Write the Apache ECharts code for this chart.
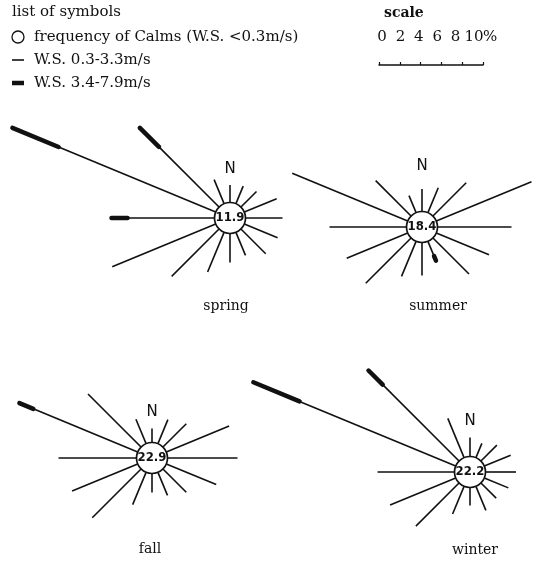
<!DOCTYPE html>
<html>
<head>
<meta charset="utf-8">
<script src="https://cdn.jsdelivr.net/npm/echarts@6/dist/echarts.min.js"></script>
<style>
html, body { margin: 0; padding: 0; background: #fff; }
#chart { width: 536px; height: 567px; }
</style>
</head>
<body>
<div id="chart"></div>
<script>
// 16 wind directions, clockwise from north
var dirs = ['N', 'NNE', 'NE', 'ENE', 'E', 'ESE', 'SE', 'SSE', 'S', 'SSW', 'SW', 'WSW', 'W', 'WNW', 'NW', 'NNW'];
var seasons = ['spring', 'summer', 'fall', 'winter'];
var calms = [11.9, 18.4, 22.9, 22.2];

// frequency (%) of W.S. 0.3-3.3m/s
var springThin = [1.75, 1.9, 2.2, 3.5, 3.7, 3.6, 3.5, 2.5, 2.9, 4.3, 6.7, 11.2, 8.7, 17.0, 8.5, 2.6];
var summerThin = [2.25, 2.7, 4.7, 10.3, 7.4, 5.7, 5.1, 1.6, 3.3, 3.8, 6.4, 6.6, 7.7, 12.5, 5.0, 1.85];
var fallThin   = [1.4, 2.6, 3.3, 6.8, 7.0, 5.4, 3.3, 2.5, 1.9, 3.5, 6.9, 7.1, 7.8, 11.3, 7.5, 2.65];
var winterThin = [1.9, 1.55, 2.25, 2.85, 3.05, 2.6, 2.15, 2.6, 1.8, 3.0, 6.1, 7.1, 7.7, 16.9, 10.8, 4.25];

// frequency (%) of W.S. 3.4-7.9m/s
var springThick = [0, 0, 0, 0, 0, 0, 0, 0, 0, 0, 0, 0, 1.6, 5.0, 2.7, 0];
var summerThick = [0, 0, 0, 0, 0, 0, 0, 0.5, 0, 0, 0, 0, 0, 0, 0, 0];
var fallThick   = [0, 0, 0, 0, 0, 0, 0, 0, 0, 0, 0, 0, 0, 1.5, 0, 0];
var winterThick = [0, 0, 0, 0, 0, 0, 0, 0, 0, 0, 0, 0, 0, 5.0, 2.0, 0];

var scaleTicks = [0, 2, 4, 6, 8, 10];

var thinData = [springThin, summerThin, fallThin, winterThin];
var thickData = [springThick, summerThick, fallThick, winterThick];

var centers = [[230, 218], [422, 227], [152, 458], [470, 472]];
var PX = 10;        // pixels per 1%
var CALM_R = 1.55;  // calm circle radius in axis units
var RMAX = 25;
var INK = '#111';
var SERIF = '"DejaVu Serif", "Liberation Serif", serif';
var SANS = '"DejaVu Sans", sans-serif';

var chart = echarts.init(document.getElementById('chart'));

var polar = [], angleAxis = [], radiusAxis = [], series = [];
for (var i = 0; i < seasons.length; i++) {
    polar.push({center: centers[i], radius: (RMAX + CALM_R) * PX});
    angleAxis.push({polarIndex: i, type: 'value', min: 0, max: 360, startAngle: 90, clockwise: true, show: false});
    radiusAxis.push({polarIndex: i, type: 'value', min: -CALM_R, max: RMAX, show: false});

    var data = [];
    for (var k = 0; k < dirs.length; k++) {
        var t = thinData[i][k], b = thickData[i][k];
        data.push([t + b, k * 360 / dirs.length, t, b]);
    }
    series.push({
        type: 'custom',
        coordinateSystem: 'polar',
        polarIndex: i,
        silent: true,
        data: data,
        renderItem: function(params, api) {
            var a = api.value(1), t = api.value(2), b = api.value(3);
            var p0 = api.coord([0, a]);
            var p1 = api.coord([t, a]);
            var p2 = api.coord([t + b, a]);
            var children = [{
                type: 'line',
                shape: {x1: p0[0], y1: p0[1], x2: p1[0], y2: p1[1]},
                style: {stroke: INK, lineWidth: 1.6}
            }];
            if (b > 0) {
                children.push({
                    type: 'line',
                    shape: {x1: p1[0], y1: p1[1], x2: p2[0], y2: p2[1]},
                    style: {stroke: INK, lineWidth: 4.5, lineCap: 'round'}
                });
            }
            return {type: 'group', children: children};
        }
    });
    series.push({
        type: 'scatter',
        coordinateSystem: 'polar',
        polarIndex: i,
        silent: true,
        z: 5,
        symbol: 'circle',
        symbolSize: 31,
        data: [[-CALM_R, 0, calms[i]]],
        itemStyle: {color: '#fff', borderColor: INK, borderWidth: 1.7, opacity: 1},
        label: {
            show: true,
            position: 'inside',
            formatter: function(p) { return p.value[2].toFixed(1); },
            color: INK,
            fontSize: 13,
            fontWeight: 'bold',
            fontFamily: '"DejaVu Sans Condensed", "DejaVu Sans", sans-serif'
        }
    });
}

// offsets of the N marks and the season names from each centre
var nOffset = [49, 61, 46, 51];
var nameOffset = [[-4, 88], [16, 79], [-2, 91], [5, 78]];

var graphic = [
    {type: 'text', x: 12, y: 12, style: {text: 'list of symbols', font: '15px ' + SERIF, fill: INK, verticalAlign: 'middle'}},
    {type: 'circle', shape: {cx: 18, cy: 37, r: 6}, style: {fill: '#fff', stroke: INK, lineWidth: 1.3}},
    {type: 'text', x: 34, y: 37, style: {text: 'frequency of Calms (W.S. <0.3m/s)', font: '15px ' + SERIF, fill: INK, verticalAlign: 'middle'}},
    {type: 'line', shape: {x1: 12, y1: 60, x2: 24, y2: 60}, style: {stroke: INK, lineWidth: 1.6}},
    {type: 'text', x: 34, y: 60, style: {text: 'W.S. 0.3-3.3m/s', font: '15px ' + SERIF, fill: INK, verticalAlign: 'middle'}},
    {type: 'line', shape: {x1: 12, y1: 83, x2: 24, y2: 83}, style: {stroke: INK, lineWidth: 4.5}},
    {type: 'text', x: 34, y: 83, style: {text: 'W.S. 3.4-7.9m/s', font: '15px ' + SERIF, fill: INK, verticalAlign: 'middle'}},
    {type: 'text', x: 384, y: 13, style: {text: 'scale', font: 'bold 14px ' + SERIF, fill: INK, verticalAlign: 'middle'}},
    {type: 'text', x: 483, y: 37, style: {text: '%', font: '15px ' + SERIF, fill: INK, verticalAlign: 'middle'}}
];
for (var j = 0; j < seasons.length; j++) {
    graphic.push({type: 'text', x: centers[j][0], y: centers[j][1] - nOffset[j],
        style: {text: 'N', font: '15px ' + SANS, fill: INK, align: 'center', verticalAlign: 'middle'}});
    graphic.push({type: 'text', x: centers[j][0] + nameOffset[j][0], y: centers[j][1] + nameOffset[j][1],
        style: {text: seasons[j], font: '14px ' + SERIF, fill: INK, align: 'center', verticalAlign: 'middle'}});
}

var option = {
    backgroundColor: '#fff',
    animation: false,
    polar: polar,
    angleAxis: angleAxis,
    radiusAxis: radiusAxis,
    // two small grids used only for the scale: the bar and its numbers
    grid: [
        {left: 379, top: 60, width: 104, height: 5},
        {left: 382, top: 53, width: 92, height: 5}
    ],
    xAxis: [{
        gridIndex: 0,
        type: 'value',
        position: 'top',
        min: scaleTicks[0],
        max: scaleTicks[scaleTicks.length - 1],
        interval: 2,
        axisLine: {lineStyle: {color: INK, width: 1.5}},
        axisTick: {length: 3, lineStyle: {color: INK, width: 1.2}},
        axisLabel: {show: false},
        splitLine: {show: false}
    }, {
        gridIndex: 1,
        type: 'value',
        position: 'top',
        min: scaleTicks[0],
        max: scaleTicks[scaleTicks.length - 1],
        interval: 2,
        axisLine: {show: false},
        axisTick: {show: false},
        axisLabel: {margin: 8, color: INK, fontSize: 15, fontFamily: SERIF},
        splitLine: {show: false}
    }],
    yAxis: [
        {gridIndex: 0, type: 'value', show: false},
        {gridIndex: 1, type: 'value', show: false}
    ],
    graphic: graphic,
    series: series
};
chart.setOption(option);
</script>
</body>
</html>
